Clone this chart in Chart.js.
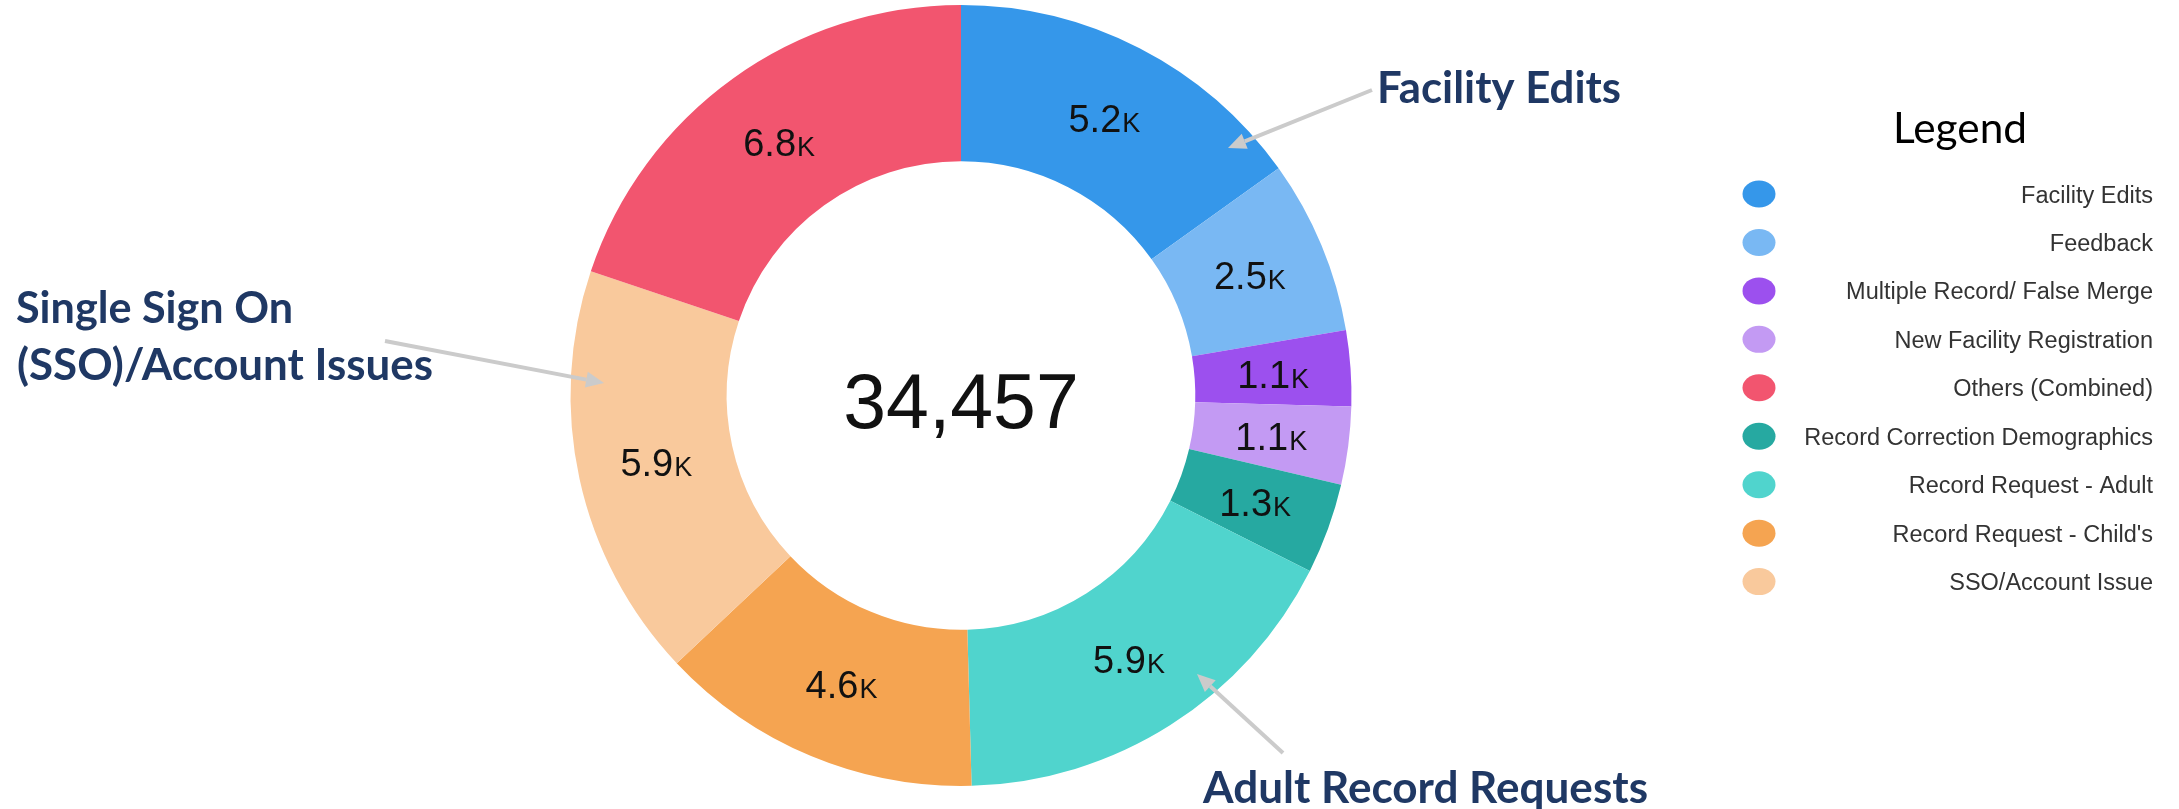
<!DOCTYPE html>
<html>
<head>
<meta charset="utf-8">
<script src="https://cdn.jsdelivr.net/npm/chart.js@4.4.1/dist/chart.umd.min.js"></script>
<style>
  html, body { margin: 0; padding: 0; background: #ffffff; }
  #wrap { width: 2179px; height: 809px; position: relative; }
</style>
</head>
<body>
<div id="wrap"><canvas id="c" width="2179" height="809"></canvas></div>
<script>
// ---- data ----
const categories = [
  'Facility Edits',
  'Feedback',
  'Multiple Record/ False Merge',
  'New Facility Registration',
  'Record Correction Demographics',
  'Record Request - Adult',
  "Record Request - Child's",
  'SSO/Account Issue',
  'Others (Combined)'
];
const values = [5210, 2480, 1080, 1110, 1290, 5910, 4620, 5920, 6837];
const sliceColors = [
  '#3597EA', '#79B8F3', '#9C50EE', '#C39AF3', '#26A9A1',
  '#50D4CD', '#F5A451', '#F9C99C', '#F2556F'
];
const legendTitle = 'Legend';
const legendOrder = [
  'Facility Edits',
  'Feedback',
  'Multiple Record/ False Merge',
  'New Facility Registration',
  'Others (Combined)',
  'Record Correction Demographics',
  'Record Request - Adult',
  "Record Request - Child's",
  'SSO/Account Issue'
];
const calloutFacility = ['Facility Edits'];
const calloutSSO = ['Single Sign On', '(SSO)/Account Issues'];
const calloutAdult = ['Adult Record Requests'];

const total = values.reduce((a, b) => a + b, 0);

function fmtK(v) { return (v / 1000).toFixed(1); }

function fitText(ctx, text, x, baseline, width, size, weight, family, color) {
  ctx.save();
  ctx.font = weight + ' ' + size + 'px ' + family;
  ctx.fillStyle = color;
  ctx.textAlign = 'left';
  ctx.textBaseline = 'alphabetic';
  const w = ctx.measureText(text).width;
  ctx.translate(x, baseline);
  ctx.scale(width / w, 1);
  ctx.fillText(text, 0, 0);
  ctx.restore();
}

function arrow(ctx, x1, y1, x2, y2) {
  const ang = Math.atan2(y2 - y1, x2 - x1);
  const headLen = 18, headW = 8;
  const bx = x2 - Math.cos(ang) * headLen, by = y2 - Math.sin(ang) * headLen;
  ctx.save();
  ctx.strokeStyle = '#CBCBCB';
  ctx.fillStyle = '#CBCBCB';
  ctx.lineWidth = 4;
  ctx.beginPath();
  ctx.moveTo(x1, y1);
  ctx.lineTo(bx, by);
  ctx.stroke();
  ctx.beginPath();
  ctx.moveTo(x2, y2);
  ctx.lineTo(bx + Math.sin(ang) * headW, by - Math.cos(ang) * headW);
  ctx.lineTo(bx - Math.sin(ang) * headW, by + Math.cos(ang) * headW);
  ctx.closePath();
  ctx.fill();
  ctx.restore();
}

const overlayPlugin = {
  id: 'overlay',
  afterDatasetsDraw(chart) {
    const ctx = chart.ctx;
    const meta = chart.getDatasetMeta(0);
    // slice labels
    ctx.save();
    ctx.fillStyle = '#111111';
    ctx.textBaseline = 'alphabetic';
    ctx.textAlign = 'left';
    meta.data.forEach((arc, i) => {
      const p = arc.getCenterPoint();
      const num = fmtK(values[i]);
      ctx.font = '38px "Liberation Sans", Arial, sans-serif';
      const w1 = ctx.measureText(num).width;
      ctx.font = '27px "Liberation Sans", Arial, sans-serif';
      const w2 = ctx.measureText('K').width;
      const x0 = p.x - (w1 + w2) / 2;
      const base = p.y + 14;
      ctx.font = '38px "Liberation Sans", Arial, sans-serif';
      ctx.fillText(num, x0, base);
      ctx.font = '27px "Liberation Sans", Arial, sans-serif';
      ctx.fillText('K', x0 + w1 + 1, base);
    });
    // center total
    const cx = meta.data[0].x, cy = meta.data[0].y;
    ctx.font = '77px "Liberation Sans", Arial, sans-serif';
    ctx.textAlign = 'center';
    ctx.fillStyle = '#111111';
    ctx.fillText(total.toLocaleString('en-US'), cx, cy + 32);
    ctx.restore();

    // legend
    ctx.save();
    fitText(ctx, legendTitle, 1893, 143, 134, 42, 'normal', 'Lato, "Open Sans", sans-serif', '#000000');
    legendOrder.forEach((name, k) => {
      const idx = categories.indexOf(name);
      const y = 194 + k * 48.45;
      ctx.fillStyle = sliceColors[idx];
      ctx.beginPath();
      ctx.ellipse(1759, y, 16.5, 13.5, 0, 0, Math.PI * 2);
      ctx.fill();
      ctx.fillStyle = '#333333';
      ctx.font = '23.5px "Liberation Sans", Arial, sans-serif';
      ctx.textAlign = 'right';
      ctx.textBaseline = 'alphabetic';
      ctx.fillText(name, 2153, y + 8.5);
    });
    ctx.restore();

    // callouts
    const navy = '#1F3864';
    const fam = 'Lato, "Open Sans", sans-serif';
    fitText(ctx, calloutFacility[0], 1377, 103, 244, 43, 'bold', fam, navy);
    fitText(ctx, calloutSSO[0], 16, 323, 277, 43, 'bold', fam, navy);
    fitText(ctx, calloutSSO[1], 17, 380, 416, 43, 'bold', fam, navy);
    fitText(ctx, calloutAdult[0], 1203, 803, 445, 43, 'bold', fam, navy);

    arrow(ctx, 1372, 90, 1228, 148);
    arrow(ctx, 385, 341, 604, 383);
    arrow(ctx, 1283, 753, 1197, 674);
  }
};

new Chart(document.getElementById('c'), {
  type: 'doughnut',
  data: {
    labels: categories,
    datasets: [{
      data: values,
      backgroundColor: sliceColors,
      borderWidth: 0,
      hoverOffset: 0
    }]
  },
  options: {
    responsive: false,
    devicePixelRatio: 1,
    animation: false,
    cutout: '60%',
    layout: { padding: { left: 570, right: 827, top: 5, bottom: 23 } },
    events: [],
    plugins: {
      legend: { display: false },
      tooltip: { enabled: false },
      title: { display: false }
    }
  },
  plugins: [overlayPlugin]
});
</script>
</body>
</html>
